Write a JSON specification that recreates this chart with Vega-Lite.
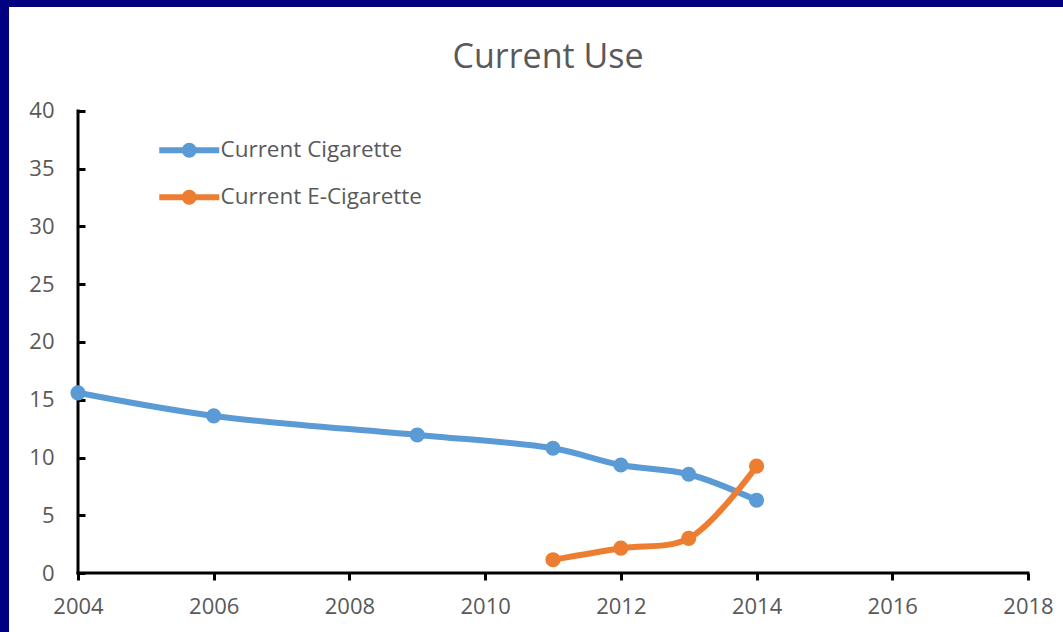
{
  "$schema": "https://vega.github.io/schema/vega-lite/v6.json",
  "width": 1054,
  "height": 625,
  "padding": {"left": 9, "top": 7, "right": 0, "bottom": 0},
  "autosize": {"type": "none"},
  "background": "#000080",
  "config": {
    "view": {"fill": "white", "stroke": null},
    "font": "Open Sans"
  },
  "title": {
    "text": "Current Use",
    "font": "Open Sans",
    "fontSize": 34,
    "fontWeight": "normal",
    "color": "#595959",
    "anchor": "middle",
    "baseline": "middle",
    "offset": -85,
    "dx": 12
  },
  "datasets": {
    "series": [
      {"year": 2004, "value": 15.6, "series": "Current Cigarette"},
      {"year": 2006, "value": 13.6, "series": "Current Cigarette"},
      {"year": 2009, "value": 11.95, "series": "Current Cigarette"},
      {"year": 2011, "value": 10.8, "series": "Current Cigarette"},
      {"year": 2012, "value": 9.35, "series": "Current Cigarette"},
      {"year": 2013, "value": 8.55, "series": "Current Cigarette"},
      {"year": 2014, "value": 6.3, "series": "Current Cigarette"},
      {"year": 2011, "value": 1.15, "series": "Current E-Cigarette"},
      {"year": 2012, "value": 2.15, "series": "Current E-Cigarette"},
      {"year": 2013, "value": 3.0, "series": "Current E-Cigarette"},
      {"year": 2014, "value": 9.25, "series": "Current E-Cigarette"}
    ],
    "axislines": [
      {"x": 2004, "x2": 2018, "y": 0, "y2": 0},
      {"x": 2004, "x2": 2004, "y": 0, "y2": 40}
    ]
  },
  "layer": [
    {
      "data": {"name": "axislines"},
      "mark": {"type": "rule", "color": "black", "strokeWidth": 3, "strokeCap": "square"},
      "encoding": {
        "x": {"field": "x", "type": "quantitative", "scale": {"domain": [2002.983, 2018.516], "nice": false, "zero": false}, "axis": {
          "values": [2004, 2006, 2008, 2010, 2012, 2014, 2016, 2018],
          "format": "d", "title": null, "domain": false, "grid": false,
          "offset": -59, "tickColor": "black", "tickWidth": 3, "tickSize": 7,
          "labelFont": "Open Sans", "labelFontSize": 22, "labelColor": "#595959", "labelPadding": 16
        }},
        "x2": {"field": "x2"},
        "y": {"field": "y", "type": "quantitative", "scale": {"domain": [-5.108, 49.004], "nice": false, "zero": false}, "axis": {
          "values": [0, 5, 10, 15, 20, 25, 30, 35, 40],
          "title": null, "domain": false, "grid": false,
          "offset": -69, "tickColor": "black", "tickWidth": 3, "tickSize": -7,
          "labelFont": "Open Sans", "labelFontSize": 22, "labelColor": "#595959", "labelPadding": 31
        }},
        "y2": {"field": "y2"}
      }
    },
    {
      "data": {"name": "series"},
      "mark": {"type": "line", "strokeWidth": 6, "interpolate": "catmull-rom"},
      "encoding": {
        "x": {"field": "year", "type": "quantitative"},
        "y": {"field": "value", "type": "quantitative"},
        "color": {
          "field": "series", "type": "nominal",
          "scale": {"domain": ["Current Cigarette", "Current E-Cigarette"], "range": ["#5B9BD5", "#ED7D31"]},
          "legend": {
            "title": null,
            "orient": "none",
            "legendX": 169,
            "legendY": 132,
            "padding": 0,
            "symbolSize": 196,
            "symbolType": "M-4.286,0L4.286,0M-0.65,0A0.65,0.65,0,1,1,0.65,0A0.65,0.65,0,1,1,-0.65,0Z",
            "symbolStrokeWidth": 6,
            "symbolOpacity": 1,
            "labelFont": "Open Sans",
            "labelFontSize": 22.5,
            "labelColor": "#595959",
            "labelOffset": 20,
            "labelLimit": 0,
            "rowPadding": 13,
            "encode": {
              "symbols": {
                "update": {
                  "fill": {"scale": "color", "field": "value"},
                  "stroke": {"scale": "color", "field": "value"}
                }
              }
            }
          }
        }
      }
    },
    {
      "data": {"name": "series"},
      "mark": {"type": "point", "filled": true, "size": 230, "opacity": 1},
      "encoding": {
        "x": {"field": "year", "type": "quantitative"},
        "y": {"field": "value", "type": "quantitative"},
        "color": {"field": "series", "type": "nominal"}
      }
    }
  ]
}
